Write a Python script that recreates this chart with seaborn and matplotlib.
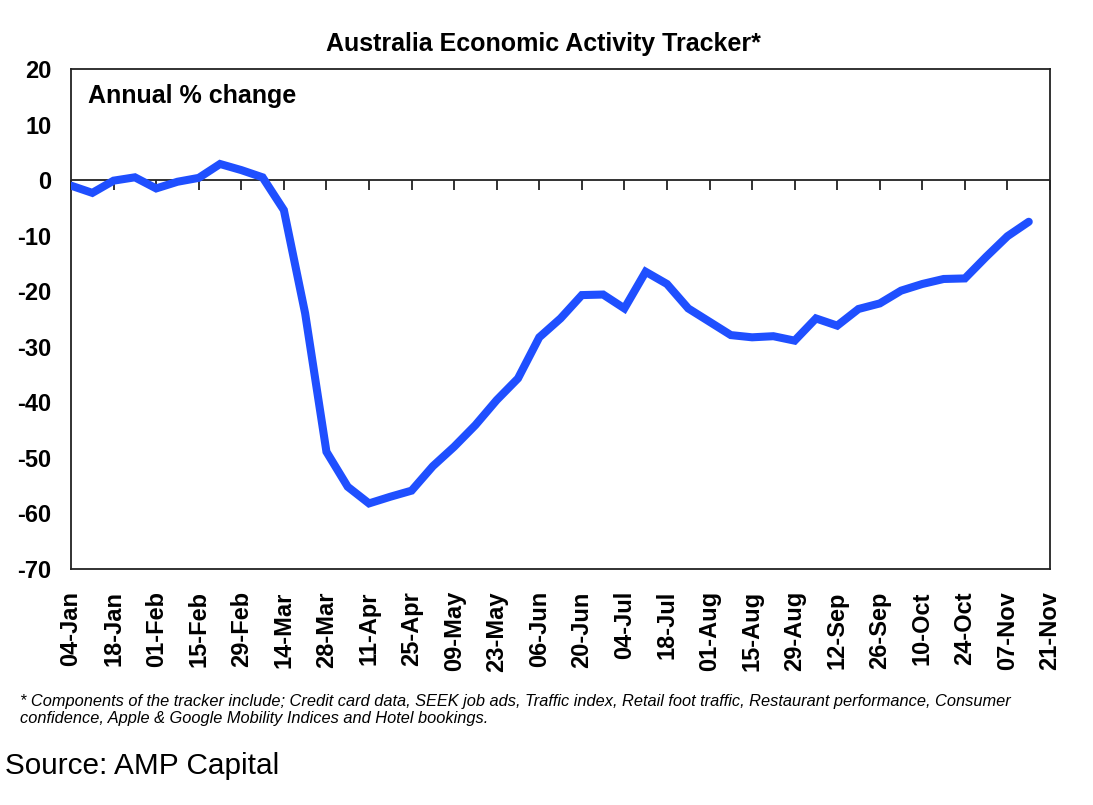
import numpy as np
import pandas as pd
import matplotlib
matplotlib.use("Agg")
import matplotlib.pyplot as plt
import matplotlib.dates as mdates
import seaborn as sns

# weekly readings, annual % change, starting 04-Jan-2020
week_start = "2020-01-04"
tracker_values = [
    -1.0, -2.3, -0.1, 0.5, -1.5, -0.3, 0.4, 2.9, 1.8, 0.5,
    -5.4, -24.0, -48.9, -55.2, -58.2, -57.0, -55.9, -51.5, -48.0, -44.1,
    -39.6, -35.7, -28.3, -24.9, -20.7, -20.6, -23.1, -16.5, -18.7, -23.1,
    -25.5, -27.9, -28.3, -28.1, -28.9, -24.9, -26.2, -23.2, -22.2, -19.9,
    -18.7, -17.8, -17.7, -13.8, -10.1, -7.5,
]
axis_start = "2020-01-04"
axis_end = "2020-11-21"
y_ticks = [20, 10, 0, -10, -20, -30, -40, -50, -60, -70]

title = "Australia Economic Activity Tracker*"
panel_label = "Annual % change"
footnote = ("* Components of the tracker include; Credit card data, SEEK job ads, Traffic index, "
            "Retail foot traffic, Restaurant performance, Consumer\n"
            "confidence, Apple & Google Mobility Indices and Hotel bookings.")
source = "Source: AMP Capital"

df = pd.DataFrame({
    "week": pd.date_range(week_start, periods=len(tracker_values), freq="7D"),
    "value": tracker_values,
})

sns.set_style("white")
plt.rcParams["font.family"] = ["Liberation Sans", "DejaVu Sans"]
plt.rcParams["axes.unicode_minus"] = False
plt.rcParams["text.color"] = "black"
plt.rcParams["xtick.color"] = "black"
plt.rcParams["ytick.color"] = "black"

fig = plt.figure(figsize=(10.93, 8.05), dpi=100)
ax = fig.add_axes([0.065, 0.2932, 0.8957, 0.6211])

ax.axhline(0, color="#222222", linewidth=1.3, zorder=1)
sns.lineplot(data=df, x="week", y="value", ax=ax, color="#1f4fff",
             linewidth=5.8, solid_joinstyle="miter", solid_capstyle="round", zorder=3)

ymin, ymax = min(y_ticks), max(y_ticks)
ax.set_ylim(ymin, ymax)
ax.set_xlim(pd.Timestamp(axis_start), pd.Timestamp(axis_end))
ax.set_yticks(y_ticks)
ax.set_xlabel("")
ax.set_ylabel("")

tick_dates = pd.date_range(axis_start, axis_end, freq="14D")
ax.set_xticks(tick_dates)
ax.xaxis.set_major_formatter(mdates.DateFormatter("%d-%b"))
ax.tick_params(axis="x", length=0, pad=16, labelsize=17, rotation=90)
ax.tick_params(axis="y", length=0, pad=14, labelsize=17)
for lab in ax.get_xticklabels() + ax.get_yticklabels():
    lab.set_fontweight("bold")

for sp in ax.spines.values():
    sp.set_visible(True)
    sp.set_color("#222222")
    sp.set_linewidth(1.3)

# tick marks hanging below the zero line, Excel style
zero_ax = ax.secondary_xaxis((0 - ymin) / (ymax - ymin))
zero_ax.set_xticks(tick_dates)
zero_ax.set_xticklabels([])
zero_ax.tick_params(axis="x", direction="in", length=7, width=1.3, color="#222222")
zero_ax.spines["top"].set_visible(False)

ax.set_title(title, fontsize=18, fontweight="bold", pad=13, x=0.483)
ax.text(0.0174, 0.932, panel_label, transform=ax.transAxes, fontsize=18,
        fontweight="bold", va="baseline", ha="left")

fig.text(0.018, 0.1375, footnote, fontsize=11.75, style="italic",
         va="top", ha="left", linespacing=1.12)
fig.text(0.005, 0.0385, source, fontsize=21.4, va="baseline", ha="left")

fig.savefig("out.png", dpi=100)
